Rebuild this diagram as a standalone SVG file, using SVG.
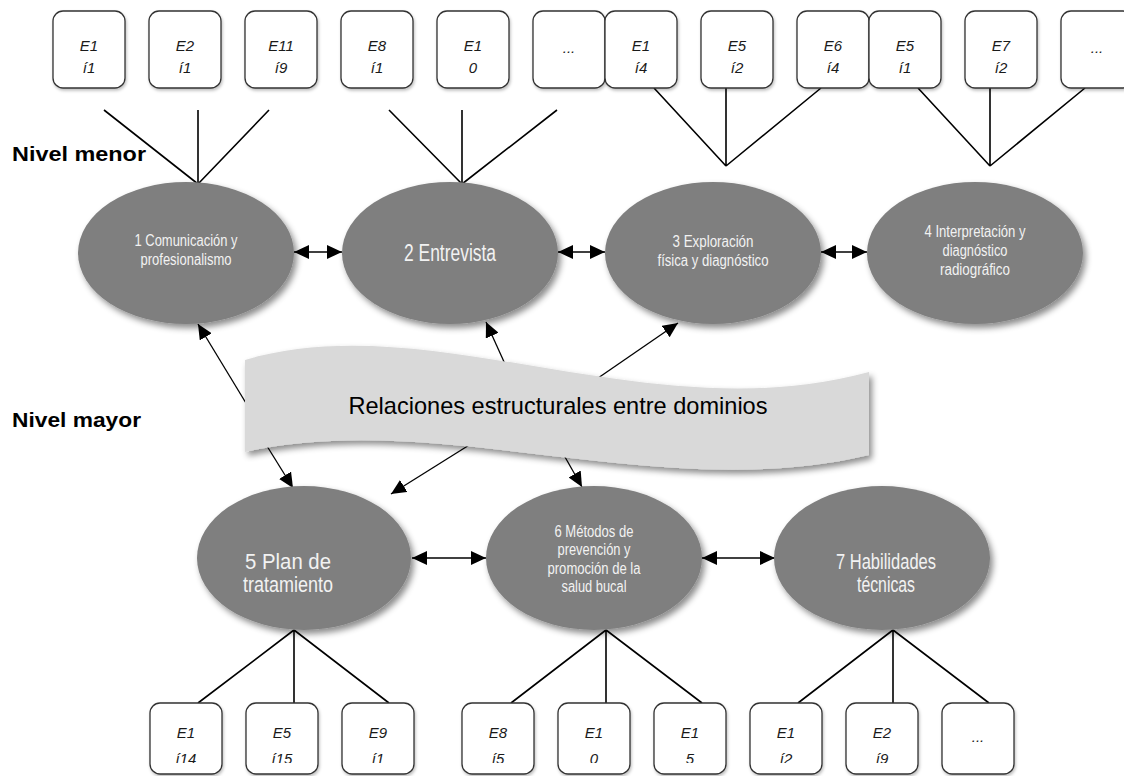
<svg xmlns="http://www.w3.org/2000/svg" width="1124" height="776" viewBox="0 0 1124 776">
<defs>
<style>
.box{fill:#fff;stroke:#333;stroke-width:1.3;filter:url(#bsh)}
.bt{font-family:"Liberation Sans",Arial,sans-serif;font-style:italic;font-size:15px;fill:#1a1a1a;text-anchor:middle}
.ell{fill:#7f7f7f;filter:url(#sh)}
.et{font-family:"Liberation Sans",Arial,sans-serif;fill:#f2f2f2;text-anchor:middle}
.ln{stroke:#000;stroke-width:1.6;fill:none}
.ar{stroke:#000;stroke-width:1.3;fill:none;marker-end:url(#ah)}
.dar{stroke:#000;stroke-width:1.5;fill:none;marker-start:url(#ah);marker-end:url(#ah)}
.lvl{font-family:"Liberation Sans",Arial,sans-serif;font-weight:bold;font-size:21px;fill:#000}
</style>
<filter id="sh" x="-20%" y="-20%" width="150%" height="150%">
<feDropShadow dx="3" dy="4" stdDeviation="3" flood-color="#000" flood-opacity="0.45"/>
</filter>
<filter id="bsh" x="-20%" y="-20%" width="150%" height="150%">
<feDropShadow dx="1" dy="2" stdDeviation="1.5" flood-color="#000" flood-opacity="0.25"/>
</filter>
<marker id="ah" markerUnits="userSpaceOnUse" viewBox="0 0 15 14" markerWidth="15" markerHeight="14" refX="15" refY="7" orient="auto-start-reverse">
<path d="M0,0 L15,7 L0,14 z" fill="#000"/>
</marker>
<clipPath id="bclip"><rect x="0" y="690" width="1124" height="73"/></clipPath>
</defs>
<rect width="1124" height="776" fill="#fff"/>

<g id="connectors">
<path class="ln" d="M104,110 L198,184 M198,110 L198,184 M269,110 L198,184"/>
<path class="ln" d="M389,110 L462,184 M462,110 L462,184 M557,110 L462,184"/>
<path class="ln" d="M654,88 L726,166 M726,88 L726,166 M821,88 L726,166"/>
<path class="ln" d="M918,88 L990,166 M990,88 L990,166 M1085,88 L990,166"/>
<path class="ln" d="M294,630 L198,703 M294,630 L294,703 M294,630 L389,703"/>
<path class="ln" d="M606,630 L511,703 M606,630 L606,703 M606,630 L702,703"/>
<path class="ln" d="M893,630 L798,703 M893,630 L893,703 M893,630 L989,703"/>
<line class="dar" x1="294" y1="252" x2="342" y2="252"/>
<line class="dar" x1="558" y1="252" x2="605" y2="252"/>
<line class="dar" x1="821" y1="252" x2="867" y2="252"/>
<line class="dar" x1="412" y1="558" x2="486" y2="558"/>
<line class="dar" x1="702" y1="558" x2="775" y2="558"/>
<line class="ar" x1="252" y1="413" x2="198" y2="324"/>
<line class="ar" x1="510" y1="375" x2="486" y2="322"/>
<line class="ar" x1="585" y1="387" x2="678" y2="323"/>
<line class="ar" x1="262" y1="438" x2="293" y2="488"/>
<line class="ar" x1="490" y1="432" x2="391" y2="494"/>
<line class="ar" x1="548" y1="427" x2="582" y2="487"/>
</g>

<g id="banner">
<path d="M245,360 C430,305 650,432 869,372 L869,455 C660,505 440,408 245,452 Z" fill="#d9d9d9" filter="url(#sh)"/>
<text x="558" y="414" font-family="Liberation Sans, Arial, sans-serif" font-size="24" fill="#000" text-anchor="middle" textLength="419" lengthAdjust="spacingAndGlyphs">Relaciones estructurales entre dominios</text>
</g>

<g id="label-menor"><text class="lvl" x="12" y="161" textLength="134" lengthAdjust="spacingAndGlyphs">Nivel menor</text></g>
<g id="label-mayor"><text class="lvl" x="12" y="427" textLength="129" lengthAdjust="spacingAndGlyphs">Nivel mayor</text></g>

<g id="d1"><ellipse class="ell" cx="186" cy="253" rx="108" ry="71"/>
<text class="et" x="186" y="246" font-size="16" textLength="103" lengthAdjust="spacingAndGlyphs">1 Comunicación y</text>
<text class="et" x="186" y="265" font-size="16" textLength="91" lengthAdjust="spacingAndGlyphs">profesionalismo</text></g>
<g id="d2"><ellipse class="ell" cx="450" cy="253" rx="108" ry="71"/>
<text class="et" x="450" y="261" font-size="23" textLength="92" lengthAdjust="spacingAndGlyphs">2 Entrevista</text></g>
<g id="d3"><ellipse class="ell" cx="713" cy="253" rx="108" ry="71"/>
<text class="et" x="713" y="247" font-size="16" textLength="81" lengthAdjust="spacingAndGlyphs">3 Exploración</text>
<text class="et" x="713" y="266" font-size="16" textLength="111" lengthAdjust="spacingAndGlyphs">física y diagnóstico</text></g>
<g id="d4"><ellipse class="ell" cx="975" cy="253" rx="108" ry="71"/>
<text class="et" x="975" y="237" font-size="16" textLength="101" lengthAdjust="spacingAndGlyphs">4 Interpretación y</text>
<text class="et" x="975" y="256" font-size="16" textLength="65" lengthAdjust="spacingAndGlyphs">diagnóstico</text>
<text class="et" x="975" y="275" font-size="16" textLength="70" lengthAdjust="spacingAndGlyphs">radiográfico</text></g>
<g id="d5"><ellipse class="ell" cx="304" cy="558" rx="107" ry="72"/>
<text class="et" x="288" y="569" font-size="22" textLength="86" lengthAdjust="spacingAndGlyphs">5 Plan de</text>
<text class="et" x="288" y="592" font-size="22" textLength="90" lengthAdjust="spacingAndGlyphs">tratamiento</text></g>
<g id="d6"><ellipse class="ell" cx="594" cy="558" rx="108" ry="72"/>
<text class="et" x="594" y="537" font-size="16" textLength="79" lengthAdjust="spacingAndGlyphs">6 Métodos de</text>
<text class="et" x="594" y="555" font-size="16" textLength="73" lengthAdjust="spacingAndGlyphs">prevención y</text>
<text class="et" x="594" y="573.5" font-size="16" textLength="93" lengthAdjust="spacingAndGlyphs">promoción de la</text>
<text class="et" x="594" y="592" font-size="16" textLength="65" lengthAdjust="spacingAndGlyphs">salud bucal</text></g>
<g id="d7"><ellipse class="ell" cx="882" cy="558" rx="108" ry="72"/>
<text class="et" x="886" y="569" font-size="22" textLength="100" lengthAdjust="spacingAndGlyphs">7 Habilidades</text>
<text class="et" x="886" y="592" font-size="22" textLength="58" lengthAdjust="spacingAndGlyphs">técnicas</text></g>

<g id="t1"><rect class="box" x="53" y="11" width="72" height="77" rx="10"/><text class="bt" x="89" y="51">E1</text><text class="bt" x="89" y="73">í1</text></g>
<g id="t2"><rect class="box" x="149" y="11" width="72" height="77" rx="10"/><text class="bt" x="185" y="51">E2</text><text class="bt" x="185" y="73">í1</text></g>
<g id="t3"><rect class="box" x="245" y="11" width="72" height="77" rx="10"/><text class="bt" x="281" y="51">E11</text><text class="bt" x="281" y="73">í9</text></g>
<g id="t4"><rect class="box" x="341" y="11" width="72" height="77" rx="10"/><text class="bt" x="377" y="51">E8</text><text class="bt" x="377" y="73">í1</text></g>
<g id="t5"><rect class="box" x="437" y="11" width="72" height="77" rx="10"/><text class="bt" x="473" y="51">E1</text><text class="bt" x="473" y="73">0</text></g>
<g id="t6"><rect class="box" x="533" y="11" width="72" height="77" rx="10"/><text class="bt" x="569" y="53">...</text></g>
<g id="t7"><rect class="box" x="605" y="11" width="72" height="77" rx="10"/><text class="bt" x="641" y="51">E1</text><text class="bt" x="641" y="73">í4</text></g>
<g id="t8"><rect class="box" x="701" y="11" width="72" height="77" rx="10"/><text class="bt" x="737" y="51">E5</text><text class="bt" x="737" y="73">í2</text></g>
<g id="t9"><rect class="box" x="797" y="11" width="72" height="77" rx="10"/><text class="bt" x="833" y="51">E6</text><text class="bt" x="833" y="73">í4</text></g>
<g id="t10"><rect class="box" x="869" y="11" width="72" height="77" rx="10"/><text class="bt" x="905" y="51">E5</text><text class="bt" x="905" y="73">í1</text></g>
<g id="t11"><rect class="box" x="965" y="11" width="72" height="77" rx="10"/><text class="bt" x="1001" y="51">E7</text><text class="bt" x="1001" y="73">í2</text></g>
<g id="t12"><rect class="box" x="1061" y="11" width="72" height="77" rx="10"/><text class="bt" x="1097" y="53">...</text></g>

<g id="b1"><rect class="box" x="150" y="703" width="72" height="71" rx="10"/><g clip-path="url(#bclip)"><text class="bt" x="186" y="738">E1</text><text class="bt" x="186" y="764">í14</text></g></g>
<g id="b2"><rect class="box" x="246" y="703" width="72" height="71" rx="10"/><g clip-path="url(#bclip)"><text class="bt" x="282" y="738">E5</text><text class="bt" x="282" y="764">í15</text></g></g>
<g id="b3"><rect class="box" x="342" y="703" width="72" height="71" rx="10"/><g clip-path="url(#bclip)"><text class="bt" x="378" y="738">E9</text><text class="bt" x="378" y="764">í1</text></g></g>
<g id="b4"><rect class="box" x="462" y="703" width="72" height="71" rx="10"/><g clip-path="url(#bclip)"><text class="bt" x="498" y="738">E8</text><text class="bt" x="498" y="764">í5</text></g></g>
<g id="b5"><rect class="box" x="558" y="703" width="72" height="71" rx="10"/><g clip-path="url(#bclip)"><text class="bt" x="594" y="738">E1</text><text class="bt" x="594" y="764">0</text></g></g>
<g id="b6"><rect class="box" x="654" y="703" width="72" height="71" rx="10"/><g clip-path="url(#bclip)"><text class="bt" x="690" y="738">E1</text><text class="bt" x="690" y="764">5</text></g></g>
<g id="b7"><rect class="box" x="750" y="703" width="72" height="71" rx="10"/><g clip-path="url(#bclip)"><text class="bt" x="786" y="738">E1</text><text class="bt" x="786" y="764">í2</text></g></g>
<g id="b8"><rect class="box" x="846" y="703" width="72" height="71" rx="10"/><g clip-path="url(#bclip)"><text class="bt" x="882" y="738">E2</text><text class="bt" x="882" y="764">í9</text></g></g>
<g id="b9"><rect class="box" x="942" y="703" width="72" height="71" rx="10"/><text class="bt" x="978" y="742">...</text></g>
</svg>
